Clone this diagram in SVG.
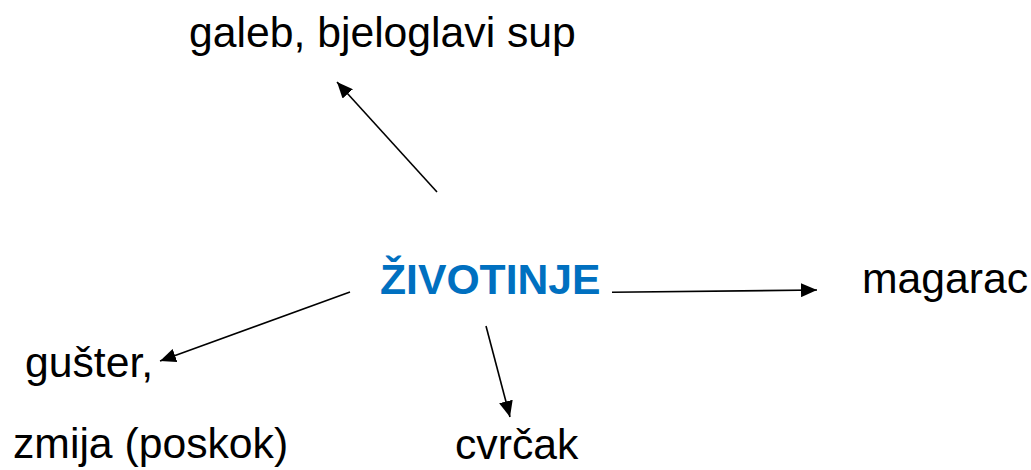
<svg xmlns="http://www.w3.org/2000/svg" width="1031" height="470" viewBox="0 0 1031 470">
<defs>
<style>
.t{font-family:"Liberation Sans",Arial,sans-serif;font-size:42.7px;fill:#000}
.c{font-family:"Liberation Sans",Arial,sans-serif;font-size:42.7px;font-weight:bold;fill:#0070C0}
.e{stroke:#000;stroke-width:1.6;fill:none;marker-end:url(#ah)}
</style>
<marker id="ah" markerUnits="userSpaceOnUse" markerWidth="18" markerHeight="14" refX="16" refY="7" orient="auto">
<path d="M0,0 L16,7 L0,14 Z" fill="#000"/>
</marker>
</defs>
<rect width="1031" height="470" fill="#fff"/>
<g id="center"><text class="c" x="380" y="294">ŽIVOTINJE</text></g>
<g id="n-galeb"><text class="t" x="189" y="47">galeb, bjeloglavi sup</text></g>
<g id="n-magarac"><text class="t" x="862" y="293">magarac</text></g>
<g id="n-guster"><text class="t" x="25" y="377">gušter,</text><text class="t" x="13" y="458">zmija (poskok)</text></g>
<g id="n-cvrcak"><text class="t" x="455" y="459">cvrčak</text></g>
<g id="connectors">
<line class="e" x1="437" y1="192" x2="337" y2="82"/>
<line class="e" x1="612" y1="292.3" x2="817" y2="290"/>
<line class="e" x1="350" y1="292" x2="160" y2="361"/>
<line class="e" x1="486" y1="326" x2="510" y2="417"/>
</g>
</svg>
